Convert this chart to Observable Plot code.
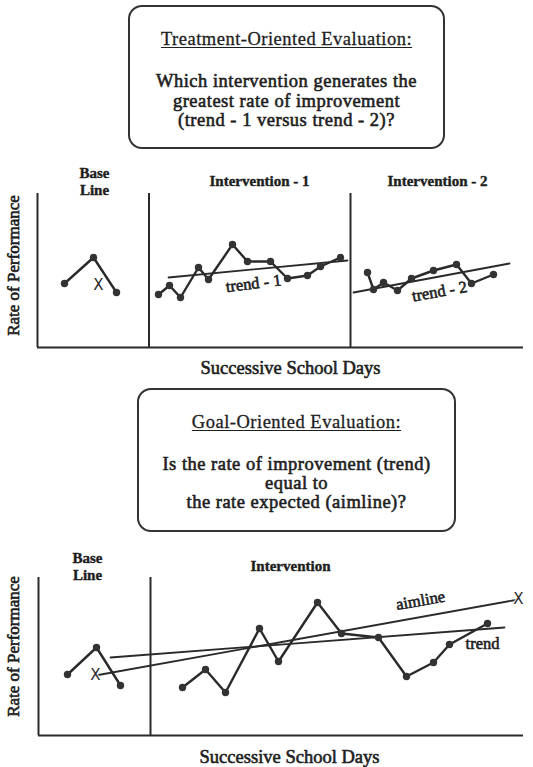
<!DOCTYPE html>
<html>
<head>
<meta charset="utf-8">
<script src="https://cdn.jsdelivr.net/npm/d3@7"></script>
<script src="https://cdn.jsdelivr.net/npm/@observablehq/plot@0.6"></script>
<style>
  html, body { margin: 0; padding: 0; background: #fff; }
  #page { position: relative; width: 533px; height: 767px; overflow: hidden;
          font-family: "Liberation Serif", serif; color: #1e1e1e; }
  .box { position: absolute; box-sizing: border-box; border: 2px solid #333; border-radius: 14px; }
  .tl { position: absolute; left: 0; right: 0; text-align: center; white-space: nowrap;
        font-size: 18.5px; letter-spacing: 0.5px; line-height: 20px; height: 20px;
        -webkit-text-stroke: 0.6px #1e1e1e; }
  .tl.title { text-decoration: underline; text-underline-offset: 2px; text-decoration-thickness: 1px;
              -webkit-text-stroke: 0.3px #1e1e1e; }
  .chart { position: absolute; left: 0; }
</style>
</head>
<body>
<div id="page"></div>
<script>
// ---------------- text ----------------
const topBoxTitle = "Treatment-Oriented Evaluation:";
const topBoxLines = ["Which intervention generates the", "greatest rate of improvement", "(trend - 1 versus trend - 2)?"];
const midBoxTitle = "Goal-Oriented Evaluation:";
const midBoxLines = ["Is the rate of improvement (trend)", "equal to", "the rate expected (aimline)?"];
const yAxisLabel = "Rate of Performance";
const xAxisLabel = "Successive School Days";

// ---------------- top chart (treatment-oriented) ----------------
const topPhaseLines = [0, 11.15, 31.3];            // y-axis and phase-change lines (days)
const topBaseDays   = [2.7, 5.6, 7.9];
const topBaseRates  = [6.4, 9.0, 5.5];
const topInt1Days   = [12.1, 13.2, 14.3, 16.1, 17.1, 19.5, 21.0, 23.3, 25.0, 27.0, 28.3, 30.3];
const topInt1Rates  = [5.3, 6.2, 5.0, 8.0, 6.8, 10.3, 8.6, 8.6, 6.9, 7.2, 8.1, 9.0];
const topInt2Days   = [33.0, 33.6, 34.6, 36.0, 37.4, 39.6, 41.9, 43.4, 45.6];
const topInt2Rates  = [7.5, 5.8, 6.5, 5.7, 6.9, 7.7, 8.3, 6.4, 7.3];
const topTrend1Days = [13.1, 31.0];
const topTrend1Rates = [7.0, 8.7];
const topTrend2Days = [31.6, 47.2];
const topTrend2Rates = [5.5, 8.4];
const topBaseMidDay = [6.1];
const topBaseMidRate = [6.2];
const topPhaseLabels = ["Base", "Line", "Intervention - 1", "Intervention - 2"];
const topPhaseLabelDays = [5.7, 5.7, 22.2, 40.0];
const topPhaseLabelRates = [17.4, 15.7, 16.6, 16.6];
const topTrendLabels = ["trend - 1", "trend - 2"];
const topTrendLabelDays = [21.6, 40.2];
const topTrendLabelRates = [6.4, 5.6];
const topTrendLabelAngles = [-7, -10];

// ---------------- bottom chart (goal-oriented) ----------------
const botPhaseLines = [0, 11.2];
const botBaseDays   = [2.9, 5.8, 8.2];
const botBaseRates  = [6.1, 8.8, 5.0];
const botIntDays    = [14.4, 16.7, 18.7, 22.1, 24.0, 27.9, 30.3, 34.0, 36.8, 39.5, 41.1, 44.9];
const botIntRates   = [4.8, 6.6, 4.3, 10.7, 7.4, 13.3, 10.2, 9.8, 5.9, 7.3, 9.1, 11.2];
const botAimDays    = [5.7, 48.0];
const botAimRates   = [6.0, 13.6];
const botTrendDays  = [7.2, 46.6];
const botTrendRates = [7.8, 10.8];
const botPhaseLabels = ["Base", "Line", "Intervention"];
const botPhaseLabelDays = [4.9, 4.9, 25.2];
const botPhaseLabelRates = [17.7, 16.0, 16.9];
const botLineLabels = ["aimline", "trend"];
const botLineLabelDays = [38.2, 44.4];
const botLineLabelRates = [13.5, 9.2];
const botLineLabelAngles = [-10, 0];

// ---------------- helpers ----------------
const ink = "#2a2a2a";
const txt = "#1e1e1e";
const serif = "Liberation Serif";
const pts = (xs, ys) => xs.map((x, i) => ({day: x, rate: ys[i]}));
const labels = (ts, xs, ys, rs) => ts.map((t, i) => ({text: t, day: xs[i], rate: ys[i], angle: rs ? rs[i] : 0}));

function series(xs, ys) {
  const d = pts(xs, ys);
  return [
    Plot.line(d, {x: "day", y: "rate", stroke: ink, strokeWidth: 2.4, strokeLinejoin: "round"}),
    Plot.dot(d, {x: "day", y: "rate", r: 3.7, fill: "#333", stroke: "none"})
  ];
}
function straight(xs, ys, w = 1.8) {
  return Plot.line(pts(xs, ys), {x: "day", y: "rate", stroke: ink, strokeWidth: w});
}
function axisTitles(xDay, xRate, yDay, yRate) {
  return [
    Plot.text([xAxisLabel], {x: () => xDay, y: () => xRate, fontFamily: serif, fontSize: 18.5,
      fill: txt, stroke: txt, strokeWidth: 0.6}),
    Plot.text([yAxisLabel], {x: () => yDay, y: () => yRate, rotate: -90, fontFamily: serif, fontSize: 17,
      fill: txt, stroke: txt, strokeWidth: 0.6})
  ];
}
function xMarks(xs, ys) {
  return Plot.text(pts(xs, ys), {x: "day", y: "rate", text: () => "X", fontFamily: "DejaVu Sans",
    fontSize: 15, fill: ink, stroke: "white", strokeWidth: 2});
}

const page = document.getElementById("page");

function addBox(left, top, width, height, title, lines, titleY, lineYs) {
  const b = document.createElement("div");
  b.className = "box";
  Object.assign(b.style, {left: left + "px", top: top + "px", width: width + "px", height: height + "px"});
  const t = document.createElement("div");
  t.className = "tl title"; t.textContent = title; t.style.top = (titleY - top - 10) + "px";
  b.appendChild(t);
  lines.forEach((s, i) => {
    const l = document.createElement("div");
    l.className = "tl"; l.textContent = s; l.style.top = (lineYs[i] - top - 10) + "px";
    b.appendChild(l);
  });
  page.appendChild(b);
}

addBox(128, 5, 317, 144, topBoxTitle, topBoxLines, 37, [79, 99, 118]);
addBox(137, 388, 319, 144, midBoxTitle, midBoxLines, 420, [462, 481, 500]);

// ---------------- top chart ----------------
const topChart = Plot.plot({
  width: 533, height: 233,
  marginLeft: 37, marginRight: 10, marginTop: 41, marginBottom: 38,
  x: {domain: [0, 48.6], axis: null},
  y: {domain: [0, 15.4], axis: null},
  style: {background: "transparent", overflow: "visible"},
  marks: [
    Plot.ruleX(topPhaseLines, {stroke: ink, strokeWidth: 2}),
    Plot.ruleY([0], {stroke: ink, strokeWidth: 2}),
    straight(topTrend1Days, topTrend1Rates),
    straight(topTrend2Days, topTrend2Rates),
    ...series(topBaseDays, topBaseRates),
    ...series(topInt1Days, topInt1Rates),
    ...series(topInt2Days, topInt2Rates),
    xMarks(topBaseMidDay, topBaseMidRate),
    Plot.text(labels(topPhaseLabels, topPhaseLabelDays, topPhaseLabelRates), {
      x: "day", y: "rate", text: "text", fontFamily: serif, fontWeight: "bold", fontSize: 15,
      fill: txt, stroke: txt, strokeWidth: 0.4}),
    Plot.text(labels(topTrendLabels, topTrendLabelDays, topTrendLabelRates, topTrendLabelAngles), {
      x: "day", y: "rate", text: "text", rotate: "angle", fontFamily: serif, fontSize: 16.5,
      fill: txt, stroke: txt, strokeWidth: 0.6}),
    ...axisTitles(25.3, -2.1, -2.4, 8.2)
  ]
});
topChart.classList.add("chart");
topChart.style.top = "152px";
page.appendChild(topChart);

// ---------------- bottom chart ----------------
const botChart = Plot.plot({
  width: 533, height: 230,
  marginLeft: 38, marginRight: 10, marginTop: 40, marginBottom: 32,
  x: {domain: [0, 48.5], axis: null},
  y: {domain: [0, 15.8], axis: null},
  style: {background: "transparent", overflow: "visible"},
  marks: [
    Plot.ruleX(botPhaseLines, {stroke: ink, strokeWidth: 2}),
    Plot.ruleY([0], {stroke: ink, strokeWidth: 2}),
    straight(botTrendDays, botTrendRates),
    straight(botAimDays, botAimRates),
    ...series(botBaseDays, botBaseRates),
    ...series(botIntDays, botIntRates),
    xMarks(botAimDays, botAimRates),
    Plot.text(labels(botPhaseLabels, botPhaseLabelDays, botPhaseLabelRates), {
      x: "day", y: "rate", text: "text", fontFamily: serif, fontWeight: "bold", fontSize: 15,
      fill: txt, stroke: txt, strokeWidth: 0.4}),
    Plot.text(labels(botLineLabels, botLineLabelDays, botLineLabelRates, botLineLabelAngles), {
      x: "day", y: "rate", text: "text", rotate: "angle", fontFamily: serif, fontSize: 16.5,
      fill: txt, stroke: txt, strokeWidth: 0.6}),
    ...axisTitles(25.1, -2.2, -2.5, 8.9)
  ]
});
botChart.classList.add("chart");
botChart.style.top = "537px";
page.appendChild(botChart);
</script>
</body>
</html>
